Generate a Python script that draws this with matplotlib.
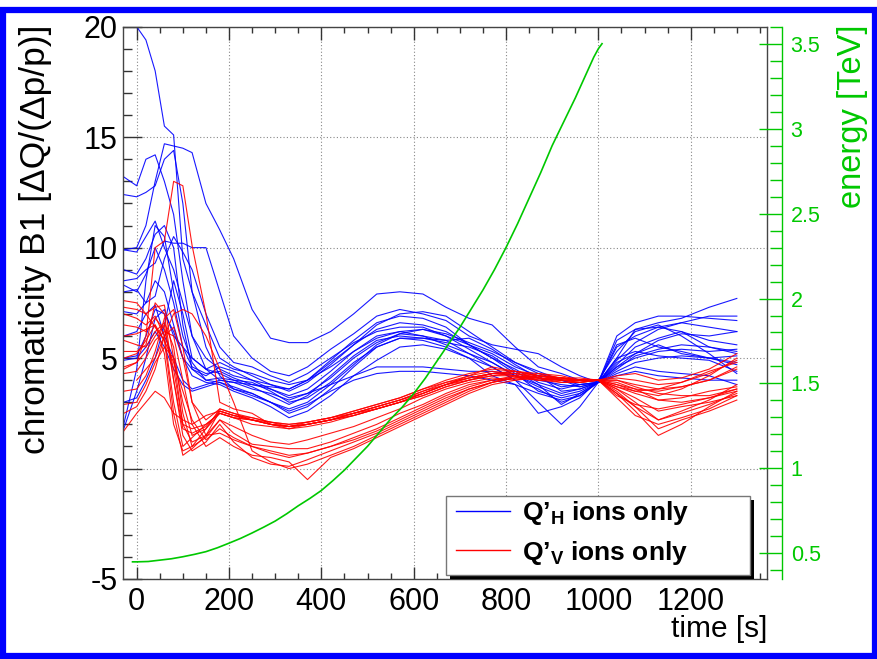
import numpy as np
import matplotlib
matplotlib.use("Agg")
import matplotlib.pyplot as plt
from matplotlib import font_manager as fm
from matplotlib.patches import Rectangle

nan = np.nan
# time axis [s]
T = [-28, 0, 20, 40, 60, 80, 100, 120, 150, 180, 210, 250, 290, 330, 370, 420, 470,
     520, 570, 620, 670, 720, 770, 820, 870, 920, 960, 1000, 1040, 1080, 1130, 1180, 1240, 1300]

# Q'_H (blue)
B01 = [nan, 20.0, 19.4, 18.0, 15.5, 15.1, 9.5, 8.0, 6.5, 5.0, 4.6, 4.2, 3.8, 3.6, 4.0, 4.8, 5.6, 6.3, 6.6, 6.5, 6.2, 5.6, 5.0, 4.3, 3.5, 3.2, 3.4, 3.9, 5.5, 6.0, 6.4, 6.2, 5.5, 5.2]
B02 = [9.9, 10.0, 11.0, 13.0, 14.7, 14.6, 14.5, 14.3, 12.0, 10.8, 9.5, 7.2, 5.9, 5.7, 5.7, 6.2, 7.0, 7.9, 8.0, 7.9, 7.3, 6.8, 6.5, 5.5, 4.6, 4.3, 4.0, 3.9, 5.8, 6.3, 6.6, 6.8, 7.3, 7.7]
B03 = [13.2, 12.8, 14.0, 14.2, 13.0, 11.5, 8.5, 6.0, 4.5, 4.0, 3.9, 3.8, 3.6, 3.3, 3.6, 4.4, 5.3, 6.0, 6.2, 6.0, 5.8, 5.2, 4.6, 4.0, 3.6, 3.0, 3.3, 3.9, 4.8, 5.2, 5.6, 5.2, 5.0, 4.8]
B04 = [12.4, 12.3, 12.5, 12.8, 14.0, 14.4, 12.0, 8.0, 5.5, 4.2, 3.6, 3.4, 3.0, 2.5, 2.8, 3.6, 4.6, 5.5, 5.9, 5.8, 5.5, 5.0, 4.2, 3.8, 2.5, 2.8, 3.2, 4.0, 5.3, 6.2, 6.5, 6.0, 5.2, 4.3]
B05 = [9.9, 9.8, 10.5, 11.2, 10.0, 9.0, 7.5, 6.0, 5.0, 4.5, 4.2, 4.0, 3.8, 3.5, 3.9, 4.7, 5.6, 6.5, 7.0, 7.1, 6.9, 6.2, 5.5, 4.8, 4.4, 4.0, 3.7, 3.9, 4.6, 5.0, 5.3, 5.4, 5.3, 5.4]
B06 = [9.0, 8.8, 9.5, 10.6, 11.0, 10.0, 6.5, 4.5, 4.0, 3.9, 3.7, 3.4, 3.0, 2.7, 3.0, 3.8, 4.7, 5.6, 6.1, 6.3, 6.0, 5.6, 5.0, 4.5, 3.9, 3.6, 3.8, 3.9, 5.0, 6.3, 6.4, 6.6, 6.4, 6.2]
B07 = [8.3, 8.0, 8.8, 10.0, 9.0, 7.5, 5.5, 4.6, 4.3, 4.4, 4.1, 3.8, 3.7, 3.6, 4.0, 4.9, 5.8, 6.6, 6.9, 6.8, 6.4, 5.6, 5.2, 4.6, 4.2, 3.5, 3.6, 3.9, 5.6, 5.9, 5.5, 5.3, 5.0, 4.7]
B08 = [8.0, 8.1, 7.5, 7.8, 9.5, 10.5, 9.8, 9.0, 7.0, 5.5, 4.8, 4.6, 4.2, 3.9, 4.3, 5.0, 5.7, 6.2, 6.4, 6.4, 6.0, 5.4, 4.8, 4.2, 3.8, 2.9, 3.4, 3.9, 4.4, 4.8, 5.0, 5.1, 5.0, 5.1]
B09 = [7.1, 7.0, 7.5, 8.5, 8.0, 6.5, 5.0, 4.2, 3.9, 3.8, 3.5, 3.2, 2.8, 2.3, 2.6, 3.3, 4.2, 4.9, 5.5, 5.6, 5.4, 5.0, 4.6, 4.0, 3.0, 2.0, 2.8, 3.9, 4.3, 4.6, 4.4, 4.3, 4.2, 3.8]
B10 = [6.0, 6.2, 7.0, 7.4, 6.0, 5.0, 4.0, 3.6, 3.8, 4.0, 3.9, 3.6, 3.4, 3.1, 3.4, 4.1, 5.0, 5.7, 6.1, 6.0, 5.6, 5.2, 4.8, 4.2, 3.7, 3.3, 3.5, 3.9, 4.7, 5.5, 5.9, 6.2, 5.8, 5.6]
B11 = [5.0, 5.1, 6.0, 7.2, 7.0, 6.2, 5.0, 4.5, 4.2, 4.6, 4.4, 4.0, 3.6, 3.2, 3.4, 3.8, 4.2, 4.6, 4.6, 4.6, 4.5, 4.4, 4.4, 4.2, 4.0, 3.8, 3.7, 3.9, 5.0, 5.3, 5.1, 5.0, 4.9, 4.4]
B12 = [4.9, 5.0, 5.5, 6.2, 5.5, 4.5, 3.8, 3.5, 3.7, 3.9, 3.6, 3.3, 3.0, 2.6, 2.9, 3.5, 4.0, 4.3, 4.4, 4.4, 4.3, 4.2, 4.0, 3.8, 3.4, 3.1, 3.3, 3.9, 4.2, 4.4, 4.2, 4.1, 4.0, 4.0]
B13 = [1.8, 3.5, 5.0, 6.8, 7.2, 6.0, 5.5, 5.0, 4.5, 4.8, 4.5, 4.3, 4.0, 3.8, 4.0, 4.6, 5.3, 5.9, 6.2, 6.3, 6.1, 5.7, 5.3, 4.8, 4.3, 4.0, 3.8, 3.9, 6.0, 6.6, 6.9, 6.9, 6.8, 6.7]
B14 = [2.0, 4.5, 8.5, 11.0, 10.5, 8.0, 6.0, 4.8, 4.0, 4.1, 4.0, 3.9, 3.5, 3.0, 3.2, 3.9, 4.8, 5.5, 5.9, 5.9, 5.7, 5.5, 5.1, 4.4, 3.8, 3.4, 3.6, 3.9, 4.9, 5.7, 6.3, 6.6, 6.9, 6.9]
B15 = [8.5, 8.6, 9.0, 9.3, 10.3, 10.2, 10.2, 10.0, 10.0, 8.0, 6.0, 5.0, 4.4, 4.2, 4.6, 5.4, 6.1, 6.9, 7.2, 7.0, 6.7, 6.0, 5.6, 5.4, 5.2, 4.6, 4.2, 3.9, 4.6, 5.2, 5.8, 6.1, 6.0, 6.2]
B16 = [3.0, 3.2, 4.0, 5.0, 6.5, 8.5, 7.0, 5.0, 4.5, 4.3, 4.0, 3.7, 3.3, 2.9, 3.3, 4.2, 5.1, 5.8, 6.0, 5.9, 5.8, 5.9, 5.4, 4.7, 4.1, 3.7, 3.8, 3.9, 4.5, 5.1, 5.4, 5.6, 5.5, 5.3]

# Q'_V (red)
R01 = [4.5, 4.8, 6.0, 10.0, 10.3, 13.0, 12.8, 10.1, 7.0, 3.0, 2.7, 2.5, 2.0, 1.9, 2.1, 2.3, 2.5, 2.8, 3.1, 3.5, 3.8, 4.2, 4.6, 4.4, 4.2, 4.1, 4.1, 4.0, 3.8, 3.5, 3.3, 3.6, 4.2, 5.0]
R02 = [7.6, 7.5, 7.0, 7.3, 7.4, 5.0, 2.0, 1.2, 1.5, 2.6, 2.4, 2.3, 2.1, 2.0, 2.1, 2.3, 2.6, 2.9, 3.2, 3.6, 3.9, 4.1, 4.3, 4.2, 4.1, 4.0, 3.9, 4.0, 4.0, 3.7, 3.4, 3.3, 3.3, 3.6]
R03 = [7.0, 6.8, 6.5, 6.9, 6.0, 3.0, 1.0, 1.4, 2.0, 2.5, 2.3, 2.2, 2.0, 1.9, 2.0, 2.2, 2.5, 2.8, 3.1, 3.5, 3.9, 4.2, 4.4, 4.3, 4.1, 4.0, 3.9, 4.0, 3.6, 3.2, 2.6, 2.8, 3.0, 3.3]
R04 = [5.8, 5.6, 5.5, 6.2, 6.6, 5.5, 2.5, 1.0, 1.8, 2.7, 2.5, 2.2, 2.1, 1.9, 2.0, 2.2, 2.4, 2.7, 3.0, 3.4, 3.8, 4.0, 4.3, 4.4, 4.2, 4.0, 4.0, 4.0, 3.9, 3.6, 3.5, 3.7, 4.0, 4.5]
R05 = [5.0, 5.2, 5.8, 6.5, 5.8, 2.5, 0.6, 0.9, 1.5, 2.2, 1.9, 1.5, 1.2, 1.1, 1.3, 1.6, 1.9, 2.3, 2.7, 3.2, 3.6, 3.9, 4.1, 4.0, 4.2, 4.1, 4.0, 4.0, 3.5, 2.8, 2.2, 2.5, 2.9, 3.4]
R06 = [4.6, 4.8, 5.3, 6.0, 6.5, 4.0, 1.5, 0.8, 1.2, 2.0, 1.2, 0.5, 0.2, 0.1, 0.4, 0.8, 1.2, 1.6, 2.1, 2.6, 3.1, 3.6, 3.9, 4.1, 4.0, 4.1, 4.0, 4.0, 3.4, 2.6, 1.5, 2.0, 2.8, 3.5]
R07 = [4.3, 4.4, 5.0, 5.8, 6.2, 6.0, 4.0, 2.0, 1.0, 1.4, 1.0, 0.6, 0.5, 0.3, -0.5, 0.5, 0.9, 1.4, 1.9, 2.4, 2.9, 3.4, 3.8, 4.0, 4.1, 3.9, 3.9, 4.0, 3.6, 3.0, 2.2, 2.6, 3.1, 3.8]
R08 = [2.9, 3.0, 3.8, 4.8, 5.5, 5.0, 3.0, 1.5, 1.8, 2.5, 2.3, 2.0, 1.9, 1.8, 1.9, 2.1, 2.4, 2.7, 3.0, 3.3, 3.7, 4.0, 4.2, 4.3, 4.1, 4.0, 4.0, 4.0, 4.2, 4.3, 4.0, 4.1, 4.5, 5.2]
R09 = [1.7, 2.5, 3.0, 3.5, 3.2, 2.5, 2.2, 2.0, 2.4, 2.6, 2.4, 2.2, 2.0, 1.9, 2.0, 2.2, 2.5, 2.8, 3.1, 3.4, 3.8, 4.1, 4.3, 4.3, 4.2, 4.1, 4.0, 4.0, 3.7, 3.4, 3.1, 3.2, 3.5, 3.7]
R10 = [7.3, 7.2, 7.0, 6.4, 5.8, 4.8, 3.5, 2.2, 1.3, 1.8, 1.4, 1.0, 0.7, 0.5, 0.7, 1.0, 1.4, 1.8, 2.3, 2.8, 3.3, 3.7, 4.0, 4.2, 4.0, 3.9, 3.9, 4.0, 3.3, 2.9, 2.7, 2.9, 3.2, 3.5]
R11 = [nan, 4.0, 4.5, 5.0, 6.0, 7.0, 7.2, 7.0, 6.0, 4.5, 3.0, 0.8, 0.3, 0.0, 0.2, 0.6, 1.0, 1.5, 2.0, 2.5, 3.0, 3.5, 3.9, 4.2, 4.0, 4.0, 4.0, 4.0, 4.0, 3.8, 3.6, 3.7, 4.0, 4.6]
R12 = [6.0, 6.1, 6.3, 6.5, 5.2, 2.0, 0.8, 1.0, 1.4, 2.2, 1.6, 1.1, 1.0, 0.9, 0.9, 1.2, 1.6, 2.0, 2.5, 2.9, 3.4, 3.8, 4.0, 4.1, 4.2, 4.0, 4.0, 4.0, 3.2, 2.4, 2.0, 2.3, 2.7, 3.3]
R13 = [3.5, 3.6, 4.2, 5.3, 6.8, 7.2, 5.5, 3.0, 2.2, 2.7, 2.5, 2.3, 2.1, 2.0, 2.1, 2.3, 2.6, 2.9, 3.2, 3.6, 4.0, 4.3, 4.5, 4.4, 4.3, 4.2, 4.0, 4.0, 3.7, 3.5, 3.6, 3.9, 4.3, 4.9]
R14 = [5.3, 5.3, 5.6, 7.5, 7.0, 4.0, 1.8, 1.6, 1.9, 2.6, 2.4, 2.2, 2.0, 1.9, 2.0, 2.2, 2.4, 2.7, 3.0, 3.3, 3.7, 4.0, 4.2, 4.2, 4.1, 4.0, 4.0, 4.0, 3.8, 3.6, 3.1, 3.0, 3.2, 3.6]
R15 = [2.5, 2.8, 3.5, 4.5, 6.0, 6.4, 5.0, 3.0, 1.5, 1.6, 1.3, 1.0, 0.8, 0.6, 0.7, 1.0, 1.3, 1.7, 2.2, 2.7, 3.2, 3.6, 3.9, 4.1, 4.3, 4.1, 4.0, 4.0, 3.4, 2.8, 1.8, 2.2, 2.6, 3.1]
R16 = [6.5, 6.4, 6.2, 6.8, 6.3, 4.5, 2.0, 1.8, 2.0, 2.5, 2.3, 2.2, 2.0, 1.8, 2.0, 2.2, 2.5, 2.7, 3.0, 3.4, 3.8, 4.1, 4.3, 4.4, 4.2, 4.1, 4.0, 4.0, 4.1, 4.0, 3.8, 3.9, 4.4, 4.8]

# beam energy [TeV]
T_E = [-9, 0, 25, 50, 75, 100, 125, 150, 175, 200, 225, 250, 275, 300, 325, 350, 375, 400,
       425, 450, 475, 500, 525, 550, 575, 600, 625, 650, 675, 700, 725, 750, 775, 800, 825,
       850, 875, 900, 925, 950, 975, 990, 1000, 1008]
E = [0.45, 0.45, 0.452, 0.46, 0.468, 0.48, 0.494, 0.51, 0.533, 0.56, 0.588, 0.62, 0.654,
     0.69, 0.733, 0.78, 0.823, 0.87, 0.928, 0.99, 1.06, 1.13, 1.21, 1.29, 1.36, 1.44, 1.53,
     1.63, 1.73, 1.83, 1.94, 2.05, 2.17, 2.30, 2.44, 2.59, 2.74, 2.90, 3.04, 3.18, 3.33,
     3.42, 3.47, 3.50]

blue_series = [B01, B02, B03, B04, B05, B06, B07, B08, B09, B10, B11, B12, B13, B14, B15, B16]
red_series = [R01, R02, R03, R04, R05, R06, R07, R08, R09, R10, R11, R12, R13, R14, R15, R16]

xticks = [0, 200, 400, 600, 800, 1000, 1200]
yticks = [-5, 0, 5, 10, 15, 20]
eticks = [0.5, 1, 1.5, 2, 2.5, 3, 3.5]
etick_labels = ["0.5", "1", "1.5", "2", "2.5", "3", "3.5"]
label_h = "Q\u2019$_{\\mathbf{H}}$ ions only"
label_v = "Q\u2019$_{\\mathbf{V}}$ ions only"

# ---------------------------------------------------------------- style
avail = {f.name for f in fm.fontManager.ttflist}
NARROW = "Liberation Sans Narrow" if "Liberation Sans Narrow" in avail else "Liberation Sans"
plt.rcParams["font.family"] = ["Liberation Sans", "DejaVu Sans"]
plt.rcParams["axes.unicode_minus"] = False
plt.rcParams["mathtext.fontset"] = "custom"
plt.rcParams["mathtext.rm"] = "Liberation Sans:bold"
plt.rcParams["mathtext.bf"] = "Liberation Sans:bold"
plt.rcParams["mathtext.it"] = "Liberation Sans:bold"

W, H = 877, 659
fig = plt.figure(figsize=(W / 100, H / 100), dpi=100)
fig.patch.set_facecolor("white")

GREEN = "#00c800"
ax = fig.add_axes([123.3 / W, 1 - 579 / H, (767.3 - 123.3) / W, (579 - 26.7) / H])
for s in ax.spines.values():
    s.set_color("#444444")
    s.set_linewidth(1.0)

blue_lines = [ax.plot(T, ys, color="#0000ff", lw=0.8, alpha=0.9)[0] for ys in blue_series]
red_lines = [ax.plot(T, ys, color="#ff0000", lw=0.8, alpha=0.9)[0] for ys in red_series]

ax.set_xlim(-29, 1366)
ax.set_ylim(-5, 20)
ax.set_xticks(xticks)
ax.set_yticks(yticks)
ax.set_xticks(np.arange(0, 1366, 50), minor=True)
ax.set_yticks(np.arange(-5, 21, 1), minor=True)
ax.tick_params(axis="x", which="major", direction="in", length=9, width=1, top=True,
               pad=6, labelsize=22, color="#333333")
ax.tick_params(axis="x", which="minor", direction="in", length=4.5, width=1, top=True,
               color="#333333")
ax.tick_params(axis="y", which="major", direction="in", length=14, width=1, right=False,
               pad=4, labelsize=22, color="#333333")
ax.tick_params(axis="y", which="minor", direction="in", length=6.5, width=1, right=False,
               color="#333333")
for lab in ax.get_xticklabels() + ax.get_yticklabels():
    lab.set_family([NARROW, "DejaVu Sans"])
ax.grid(True, which="major", color="#888888", linestyle=(0, (1, 2)), linewidth=0.8)

# energy axis
ax2 = ax.twinx()
ax2.plot(T_E, E, color=GREEN, lw=1.2)
ax2.set_ylim(0.349, 3.598)
for k in ("top", "left", "bottom"):
    ax2.spines[k].set_visible(False)
ax2.spines["right"].set_position(("axes", 1.0 + 15 / 644))
ax2.spines["right"].set_color(GREEN)
ax2.spines["right"].set_linewidth(1.0)
ax2.set_yticks(eticks)
ax2.set_yticklabels(etick_labels)
ax2.set_yticks(np.arange(0.4, 3.61, 0.1), minor=True)
ax2.tick_params(axis="y", which="major", direction="in", length=16.5, width=1, color=GREEN,
                labelcolor=GREEN, labelsize=15.5, pad=6)
ax2.tick_params(axis="y", which="minor", direction="in", length=8.5, width=1, color=GREEN)

# legend (ROOT style box with hard shadow), drawn on the top-most axes
ax2.add_patch(Rectangle((450 / W, 1 - 579 / H), 304 / W, 79 / H, facecolor="black",
                        edgecolor="none", transform=fig.transFigure, clip_on=False, zorder=8))
ax2.add_patch(Rectangle((446 / W, 1 - 575 / H), 304 / W, 79 / H, facecolor="white",
                        edgecolor="#777777", linewidth=1.0, transform=fig.transFigure,
                        clip_on=False, zorder=9))
leg = ax2.legend([blue_lines[0], red_lines[0]], [label_h, label_v], loc="center left",
                 bbox_to_anchor=(456 / W, 1 - 533 / H), bbox_transform=fig.transFigure,
                 prop={"family": ["Liberation Sans", "DejaVu Sans"], "weight": "bold", "size": 19},
                 frameon=False, handlelength=2.05, handletextpad=0.45, borderpad=0.0,
                 labelspacing=0.42, borderaxespad=0.0)
leg.set_zorder(10)
for h in leg.get_lines():
    h.set_linewidth(1.0)
    h.set_alpha(1.0)

# axis titles
fig.text(767 / W, 1 - 629 / H, "time [s]", ha="right", va="center",
         fontsize=21.5, family=[NARROW, "DejaVu Sans"])
fig.text(36 / W, 1 - 25 / H, "chromaticity B1 [\u0394Q/(\u0394p/p)]", rotation=90,
         ha="center", va="top", fontsize=25.5, family=[NARROW, "DejaVu Sans"])
fig.text(853 / W, 1 - 25 / H, "energy [TeV]", rotation=90, ha="center", va="top",
         fontsize=23.5, color=GREEN)

# blue canvas frame
fig.patches.append(Rectangle((2.5 / W, 3 / H), (W - 5) / W, (H - 13) / H, fill=False,
                             edgecolor="#0000ff", linewidth=4.5, transform=fig.transFigure))

fig.savefig("out.png", dpi=100, facecolor="white")
